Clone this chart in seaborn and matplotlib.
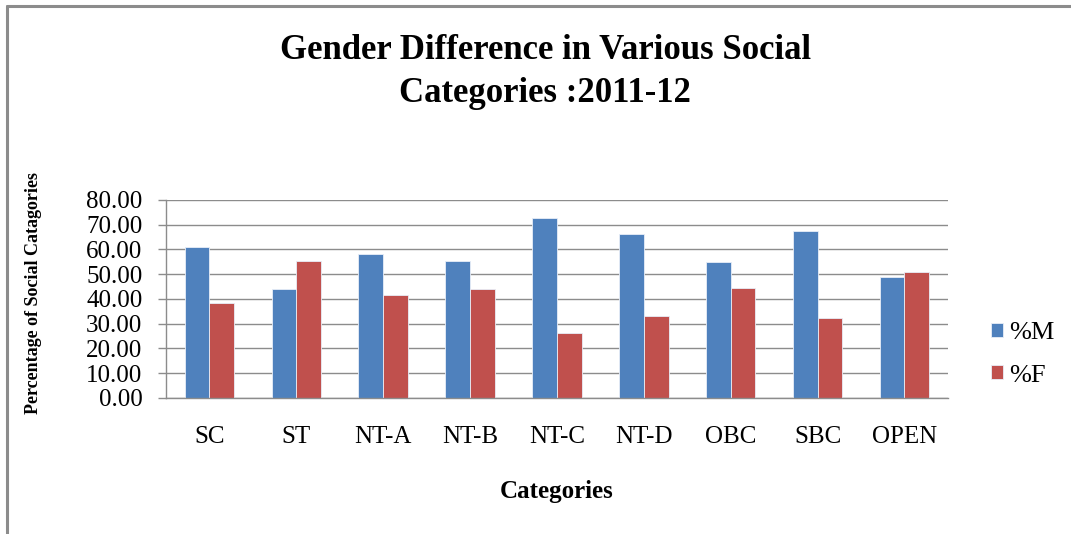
import matplotlib

matplotlib.use("Agg")
import matplotlib.pyplot as plt
import pandas as pd
import seaborn as sns
from matplotlib.lines import Line2D

categories = ["SC", "ST", "NT-A", "NT-B", "NT-C", "NT-D", "OBC", "SBC", "OPEN"]
pct_male = [61.1, 44.0, 58.0, 55.5, 72.9, 66.2, 54.9, 67.3, 48.7]
pct_female = [38.4, 55.5, 41.5, 44.1, 26.4, 33.1, 44.6, 32.2, 50.8]
series = ["%M", "%F"]
y_ticks = [0, 10, 20, 30, 40, 50, 60, 70, 80]


def main():
    df = pd.DataFrame(
        {
            "category": categories * 2,
            "series": [series[0]] * len(categories) + [series[1]] * len(categories),
            "value": pct_male + pct_female,
        }
    )

    sns.set_style("white")
    plt.rcParams["font.family"] = ["Liberation Serif", "DejaVu Serif"]
    plt.rcParams["text.color"] = "black"
    plt.rcParams["axes.labelcolor"] = "black"
    plt.rcParams["xtick.color"] = "black"
    plt.rcParams["ytick.color"] = "black"

    fig = plt.figure(figsize=(10.71, 5.34), dpi=100)
    ax = fig.add_axes([0.155, 0.2547, 0.730, 0.3708])

    sns.barplot(
        data=df,
        x="category",
        y="value",
        hue="series",
        palette=["#4F81BD", "#C0504D"],
        width=0.57,
        gap=0,
        edgecolor="#e8eef8",
        linewidth=0.6,
        saturation=1,
        ax=ax,
    )

    ax.set_ylim(0, 80)
    ax.set_yticks(y_ticks)
    ax.set_yticklabels([f"{t:.2f}" for t in y_ticks], fontsize=18)
    ax.set_xlim(-0.5, len(categories) - 0.5)
    ax.tick_params(axis="x", labelsize=18, length=0, pad=20)
    ax.tick_params(axis="y", length=6, width=1, color="#8c8c8c", pad=11, left=True)
    ax.yaxis.grid(True, color="#8c8c8c", lw=1)
    ax.set_axisbelow(True)
    for side in ["top", "right"]:
        ax.spines[side].set_visible(False)
    for side in ["left", "bottom"]:
        ax.spines[side].set_color("#8c8c8c")
        ax.spines[side].set_linewidth(1)

    ax.set_xlabel("Categories", fontsize=18, fontweight="bold")
    ax.xaxis.set_label_coords(0.5, -0.414)
    ax.set_ylabel("Percentage of Social Catagories", fontsize=13, fontweight="bold")
    ax.yaxis.set_label_coords(-0.159, 0.53)

    ax.legend(
        loc="center left",
        bbox_to_anchor=(1.055, 0.22),
        frameon=False,
        fontsize=19,
        handlelength=0.45,
        handleheight=0.45,
        handletextpad=0.25,
        labelspacing=0.77,
        borderpad=0,
        borderaxespad=0,
        title=None,
    )

    fig.text(
        0.509,
        0.905,
        "Gender Difference in Various Social",
        ha="center",
        va="center",
        fontsize=25,
        fontweight="bold",
    )
    fig.text(
        0.509,
        0.825,
        "Categories :2011-12",
        ha="center",
        va="center",
        fontsize=25,
        fontweight="bold",
    )

    # outer chart frame (only top and left edges visible)
    fig.add_artist(Line2D([0.0065, 1.0], [0.988, 0.988], color="#8c8c8c", lw=2.2))
    fig.add_artist(Line2D([0.0065, 0.0065], [0.0, 0.988], color="#8c8c8c", lw=2.2))

    fig.savefig("out.png", dpi=100)


if __name__ == "__main__":
    main()
